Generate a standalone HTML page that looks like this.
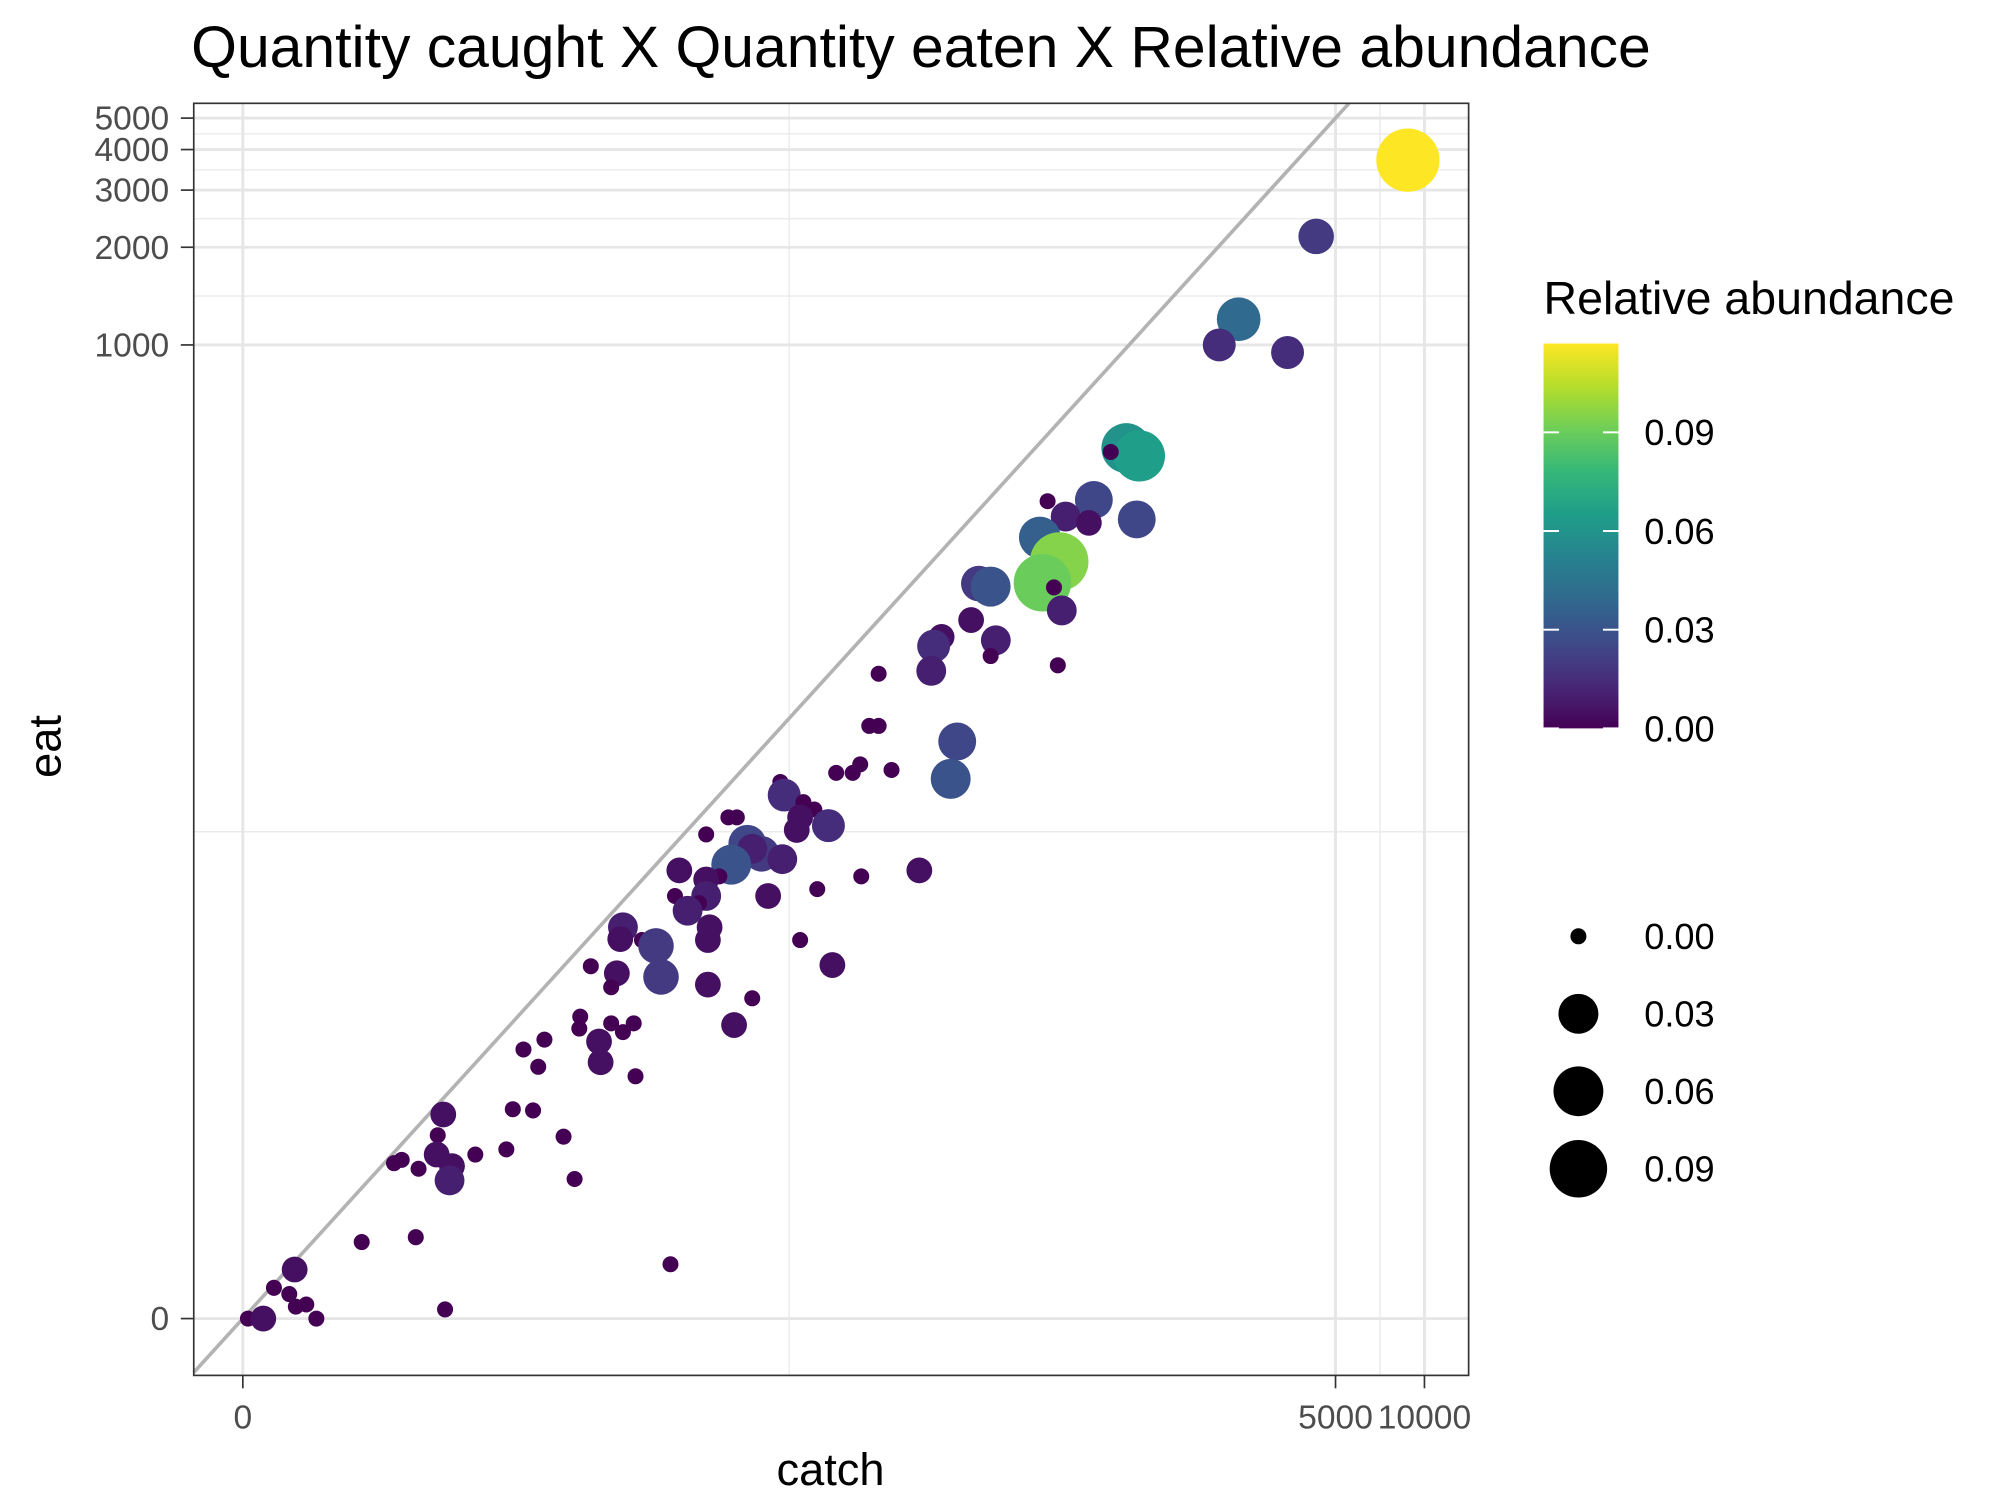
<!DOCTYPE html>
<html><head><meta charset="utf-8">
<style>
html,body{margin:0;padding:0;background:#fff;}
svg{display:block;font-family:"Liberation Sans",Arial,sans-serif;}
</style></head>
<body>
<svg id="chart" width="2015" height="1511" viewBox="0 0 1560 1170" preserveAspectRatio="none">
<rect x="0" y="0" width="1560" height="1170" fill="#fff"/>
<text x="148" y="52" font-size="45" fill="#000" textLength="1130" lengthAdjust="spacingAndGlyphs">Quantity caught X Quantity eaten X Relative abundance</text>
<g id="grid"></g>
<line id="diag" stroke="#b3b3b3" stroke-width="2.8"/>
<g id="points"></g>
<rect x="150" y="80" width="987" height="985" fill="none" stroke="#333" stroke-width="1.3"/>
<g id="axes"></g>
<text x="643" y="1150" font-size="35" text-anchor="middle">catch</text>
<text transform="translate(47,578) rotate(-90)" font-size="35" text-anchor="middle">eat</text>
<text x="1195" y="243" font-size="36">Relative abundance</text>
<defs><linearGradient id="vir" x1="0" y1="1" x2="0" y2="0"></linearGradient></defs>
<rect x="1195" y="266" width="58" height="298" fill="url(#vir)"/>
<g id="legend"></g>
</svg>
<script>
const catchVals=[8790,4300,2350,2020,3440,979,1084,867,760,530,610,731,1062,499,580,509,557,310,340,592,292,232,218,354,340,214,142,574,262,249,132,142,102,116,123,157,66,68,79,86,77,96,75,37,44,47,51,57,53,67,45,41,37,30,29,37,35,32,60,88,124,195,38,37.5,77,99,19.3,18.9,22.4,25,18.4,26,15,17.6,37.5,53,46,13.8,13.7,17.6,21,19.3,16,16.2,21.3,10.4,8.8,9.9,4.56,4.35,8.08,9.5,12.1,4.31,5.96,7.67,2.94,3.16,3.68,4.91,4.81,13.2,2.13,3.59,28,0.83,0.49,0.74,0.85,1.03,4.63,0.08,0.32,1.21];
const eatVals=[3710,2160,1200,1000,948,481,455,468,333,330,296,283,290,255,215,185,179,184,180,152,142,126,118,123,110,99,97,103,60,46,67,67,48,48,51,49,45,41,39,37,35,33,32,31,35,35,29,27,28,26,25,23,22.5,24,20,20,19,18,20,21,23,24,16,14.6,14.6,12.2,16,14.7,14.6,14,11.5,11.2,12.1,10.4,10.6,9.6,7.9,8.4,7.7,8.0,8.0,7.5,7.0,6.0,5.4,7.1,6.6,5.8,4.02,3.40,4.19,4.15,3.36,2.89,2.89,3.02,2.68,2.76,2.55,2.61,2.29,2.32,1.14,1.22,0.79,0.71,0.44,0.35,0.17,0.20,0.13,0,0,0];
const abundVals=[0.117,0.02,0.04,0.015,0.015,0.06,0.065,0,0.025,0,0.01,0.005,0.025,0.035,0.095,0.09,0,0.02,0.03,0.01,0.005,0.005,0.015,0.01,0,0.01,0,0,0.025,0.03,0,0,0,0,0,0,0,0.015,0,0,0.005,0.015,0.005,0,0,0,0.025,0.02,0.01,0.01,0.03,0,0.005,0.005,0,0.01,0,0.01,0.005,0,0,0.005,0.005,0.005,0,0.005,0.01,0.005,0,0.02,0.005,0.02,0,0,0.005,0,0.005,0,0,0,0,0,0.005,0.005,0,0,0,0,0.005,0,0,0,0,0.005,0,0,0,0,0,0.005,0.01,0,0,0,0,0.005,0,0,0,0,0,0,0.005,0];
const xTicks=[0,5000,10000];
const xTickLabels=["0","5000","10000"];
const yTicks=[0,1000,2000,3000,4000,5000];
const yTickLabels=["0","1000","2000","3000","4000","5000"];
const colorTicks=[0,0.03,0.06,0.09];
const colorTickLabels=["0.00","0.03","0.06","0.09"];
const sizeKeys=[0,0.03,0.06,0.09];
const sizeKeyLabels=["0.00","0.03","0.06","0.09"];

const NS="http://www.w3.org/2000/svg";
function tr(v){return Math.asinh(v/2)/Math.LN10;}
function xs(v){return 188+tr(v)*228.7;}
function ys(v){return 1021-tr(v)*251.3;}
function xsT(t){return 188+t*228.7;}
function ysT(t){return 1021-t*251.3;}
const aMax=0.117;
function rad(a){return 6.2+18.3*Math.sqrt(Math.max(0,a)/aMax);}
const vir=["#440154","#482878","#3e4a89","#31688e","#26828e","#1f9e89","#35b779","#6ece58","#b5de2b","#fde725"];
function hex(h){return [1,3,5].map(i=>parseInt(h.substr(i,2),16));}
function col(a){let f=Math.max(0,Math.min(1,a/aMax))*(vir.length-1);let i=Math.min(Math.floor(f),vir.length-2);let t=f-i;let c1=hex(vir[i]),c2=hex(vir[i+1]);return "rgb("+c1.map((c,k)=>Math.round(c+(c2[k]-c)*t)).join(",")+")";}
function mk(tag,attrs,parent){const e=document.createElementNS(NS,tag);for(const k in attrs)e.setAttribute(k,attrs[k]);parent.appendChild(e);return e;}

const grid=document.getElementById('grid');
const xt=xTicks.map(tr), yt=yTicks.map(tr);
for(let i=0;i<xt.length-1;i++){const x=xsT((xt[i]+xt[i+1])/2);
 const l=mk('line',{x1:x,x2:x,y1:80,y2:1065,stroke:'#ebebeb','stroke-width':1.1},grid);
 
 }
for(let i=0;i<yt.length-1;i++){const y=ysT((yt[i]+yt[i+1])/2);
 const l=mk('line',{x1:150,x2:1137,y1:y,y2:y,stroke:'#ebebeb','stroke-width':1.1},grid);
 
 }
xTicks.forEach(v=>{const x=xs(v);
 const l=mk('line',{x1:x,x2:x,y1:80,y2:1065,stroke:'#e6e6e6','stroke-width':2.2},grid);
 
 });
yTicks.forEach(v=>{const y=ys(v);
 const l=mk('line',{x1:150,x2:1137,y1:y,y2:y,stroke:'#e6e6e6','stroke-width':2.2},grid);
 
 });

const d=document.getElementById('diag');
const tLo=(1065-1021)/-251.3;
const tStart=Math.max((150-188)/228.7,tLo);
const tEnd=Math.min((1137-188)/228.7,(1021-80)/251.3);
d.setAttribute('x1',xsT(tStart));d.setAttribute('y1',ysT(tStart));
d.setAttribute('x2',xsT(tEnd));d.setAttribute('y2',ysT(tEnd));

const pts=document.getElementById('points');
catchVals.forEach((c,i)=>{
 const a=abundVals[i];
 const p=mk('circle',{cx:xs(c),cy:ys(eatVals[i]),r:rad(a),fill:col(a)},pts);
 
 
});

const axes=document.getElementById('axes');
xTicks.forEach((v,i)=>{const x=xs(v);
 const t=mk('line',{x1:x,x2:x,y1:1065,y2:1075,stroke:'#333','stroke-width':1.3},axes);
 
 
 const s=mk('text',{x:x,y:1106,'font-size':26,fill:'#4d4d4d','text-anchor':'middle'},axes);
 s.textContent=xTickLabels[i];
 
 });
yTicks.forEach((v,i)=>{const y=ys(v);
 const t=mk('line',{x1:140,x2:150,y1:y,y2:y,stroke:'#333','stroke-width':1.3},axes);
 
 
 const s=mk('text',{x:131,y:y+9,'font-size':26,fill:'#4d4d4d','text-anchor':'end'},axes);
 s.textContent=yTickLabels[i];
 
 });

const g=document.getElementById('vir');
vir.forEach((c,i)=>{mk('stop',{offset:(i/(vir.length-1)),'stop-color':c},g);});
const leg=document.getElementById('legend');
colorTicks.forEach((v,i)=>{const y=564-v/aMax*298;
 const t1=mk('line',{x1:1195,x2:1207,y1:y,y2:y,stroke:'#fff','stroke-width':1.5},leg);
 
 
 const t2=mk('line',{x1:1241,x2:1253,y1:y,y2:y,stroke:'#fff','stroke-width':1.5},leg);
 
 
 const s=mk('text',{x:1273,y:y+10,'font-size':28,fill:'#000'},leg);
 s.textContent=colorTickLabels[i];
 
 });
sizeKeys.forEach((v,i)=>{const y=725+i*60;
 const c=mk('circle',{cx:1222,cy:y,r:rad(v),fill:'#000'},leg);
 
 
 const s=mk('text',{x:1273,y:y+10,'font-size':28,fill:'#000'},leg);
 s.textContent=sizeKeyLabels[i];
 
 });
</script>
</body></html>
